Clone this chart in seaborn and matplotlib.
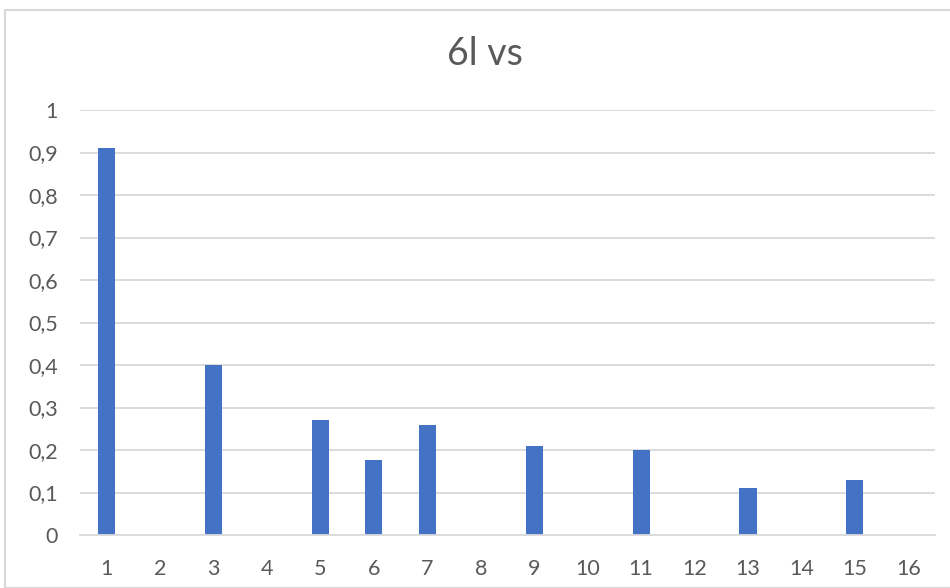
import matplotlib
matplotlib.use("Agg")
import matplotlib.pyplot as plt
import seaborn as sns
import pandas as pd
from matplotlib.patches import Rectangle

categories = [str(i) for i in range(1, 17)]
values = [0.91, 0, 0.40, 0, 0.27, 0.176, 0.26, 0, 0.21, 0, 0.20, 0, 0.11, 0, 0.13, 0]
yticks = [0, 0.1, 0.2, 0.3, 0.4, 0.5, 0.6, 0.7, 0.8, 0.9, 1]
ytick_labels = ["0", "0,1", "0,2", "0,3", "0,4", "0,5", "0,6", "0,7", "0,8", "0,9", "1"]
title = "6l vs"

sns.set_theme(style="white")
plt.rcParams['font.family'] = ['Lato', 'DejaVu Sans']

df = pd.DataFrame({"cat": categories, "val": values})

fig = plt.figure(figsize=(9.5, 5.88), dpi=100)
ax = fig.add_axes([80/950, (588-535)/588, (935-80)/950, (535-110)/588])

sns.barplot(data=df, x="cat", y="val", order=categories, color="#4472C4",
            width=0.32, linewidth=0, saturation=1, ax=ax)

ax.set_ylim(0, 1)
ax.set_xlim(-0.5, 15.5)
ax.set_yticks(yticks)
ax.set_yticklabels(ytick_labels)
ax.yaxis.grid(True, color="#D9D9D9", linewidth=1.3)
ax.set_axisbelow(True)
for s in ["top", "right", "left"]:
    ax.spines[s].set_visible(False)
ax.spines["bottom"].set_color("#D9D9D9")
ax.spines["bottom"].set_linewidth(1.3)
ax.tick_params(axis="both", length=0, labelsize=15.5, colors="#595959")
ax.tick_params(axis="y", pad=16)
ax.tick_params(axis="x", pad=17)
ax.set_xlabel("")
ax.set_ylabel("")

fig.text(485/950, 1 - 54/588, title, ha="center", va="center", fontsize=27, color="#595959")

fig.patches.append(Rectangle((5/950, 0), 2, (588-10)/588, transform=fig.transFigure,
                             fill=False, edgecolor="#D9D9D9", linewidth=1.5))

fig.savefig("out.png", dpi=100)
